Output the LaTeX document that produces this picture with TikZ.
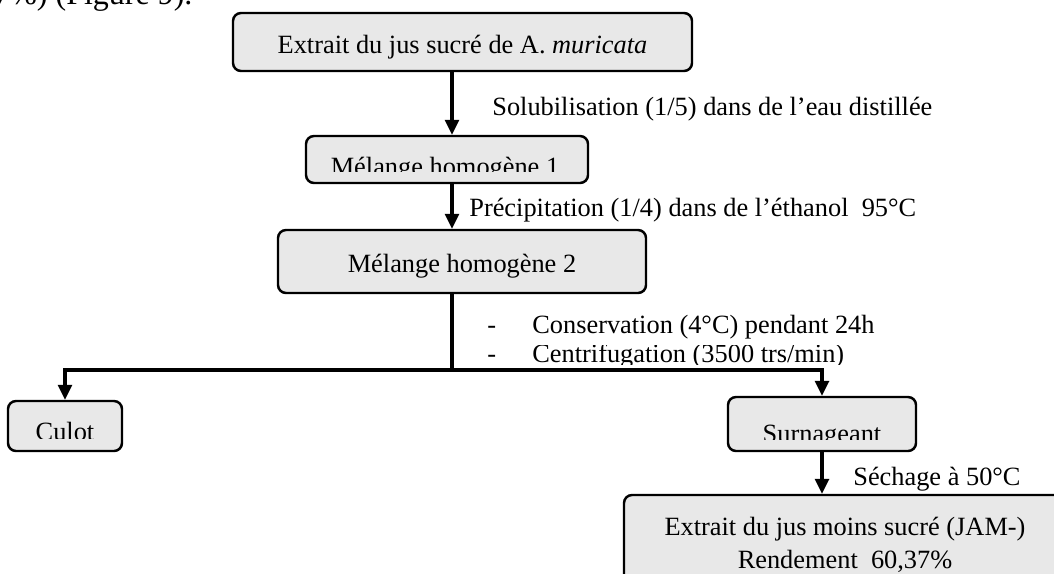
\documentclass[tikz,border=0pt]{standalone}
\usepackage{fontspec}
\setmainfont{Liberation Serif}
\usetikzlibrary{arrows.meta}

\begin{document}
\begin{tikzpicture}[
  font=\fontsize{15}{18.8}\selectfont,
  x=1cm, y=1cm,
  stepbox/.style={rounded corners=0.16cm, draw=black, line width=1.4pt, fill=black!9, inner sep=0pt, text height=0.44cm, text depth=0pt},
  flow/.style={-{Triangle[length=0.3cm, width=0.28cm]}, draw=black, line width=1.8pt},
  trunkline/.style={draw=black, line width=1.8pt},
  note/.style={anchor=base west, inner sep=0pt},
  cut/.style={anchor=base, inner sep=0pt, align=center}
]
\useasboundingbox (0,0) rectangle (21.08,-11.46);

% Texte de la page (coupé en haut)
\node[anchor=base west, inner sep=0pt, font=\fontsize{18.2}{22}\selectfont] (prevtxt) at (-0.12,-0.08) {7\%) (Figure 9).};

% Étapes (colonne centrale)
\node[stepbox, minimum width=9.18cm, minimum height=1.16cm] (jus)  at (9.25,-0.84) {Extrait du jus sucré de A. \textit{muricata}};
\node[stepbox, minimum width=5.64cm, minimum height=0.94cm] (mix1) at (8.94,-3.19) {};
\node[stepbox, minimum width=7.36cm, minimum height=1.26cm] (mix2) at (9.24,-5.23) {Mélange homogène 2};

% Fractions après centrifugation
\node[stepbox, minimum width=2.28cm, minimum height=1.0cm]  (culot) at (1.30,-8.52) {};
\node[stepbox, minimum width=3.76cm, minimum height=1.08cm] (surn)  at (16.44,-8.48) {};
\node[stepbox, minimum width=8.84cm, minimum height=2.3cm]  (jam)   at (16.90,-11.05) {};

% Textes tronqués par le bas des cadres
\begin{scope}
  \clip ([yshift=0.246cm]mix1.south west) rectangle (mix1.north east);
  \node[cut] (mix1txt) at ([xshift=-0.04cm, yshift=0.176cm]mix1.south) {Mélange homogène 1};
\end{scope}
\begin{scope}
  \clip ([yshift=0.28cm]culot.south west) rectangle (culot.north east);
  \node[cut] (culottxt) at ([yshift=0.23cm]culot.south) {Culot};
\end{scope}
\begin{scope}
  \clip ([yshift=0.246cm]surn.south west) rectangle (surn.north east);
  \node[cut] (surntxt) at ([yshift=0.204cm]surn.south) {Surnageant};
\end{scope}
\node[cut] (jamtxt) at ([yshift=-1.50cm]jam.north) {Extrait du jus moins sucré (JAM-)\\Rendement\ \ 60,37\%};

% Flèches
\coordinate (trunk) at (9.04,0);
\coordinate (split) at (9.04,-7.40);
\draw[flow] (jus.south -| trunk) -- (mix1.north -| trunk);
\draw[flow] (mix1.south -| trunk) -- (mix2.north -| trunk);
\draw[trunkline] (mix2.south -| trunk) -- (split);
\draw[flow] (split) -| (culot.north);
\draw[flow] (split) -| (surn.north);
\draw[flow] (surn.south) -- (surn.south |- jam.north);

% Opérations
\node[note] (solub)   at (9.84,-2.30) {Solubilisation (1/5) dans de l’eau distillée};
\node[note] (precip)  at (9.38,-4.32) {Précipitation (1/4) dans de l’éthanol\ \ 95°C};
\node[note] (dashA)   at (9.74,-6.66) {-};
\node[note] (conserv) at (10.64,-6.66) {Conservation (4°C) pendant 24h};
\begin{scope}
  \clip (9.5,-6.9) rectangle (18,-7.28);
  \node[note] (dashB)  at (9.74,-7.25) {-};
  \node[note] (centri) at (10.64,-7.25) {Centrifugation (3500 trs/min)};
\end{scope}
\node[note] (sechage) at (17.06,-9.70) {Séchage à 50°C};
\end{tikzpicture}
\end{document}
